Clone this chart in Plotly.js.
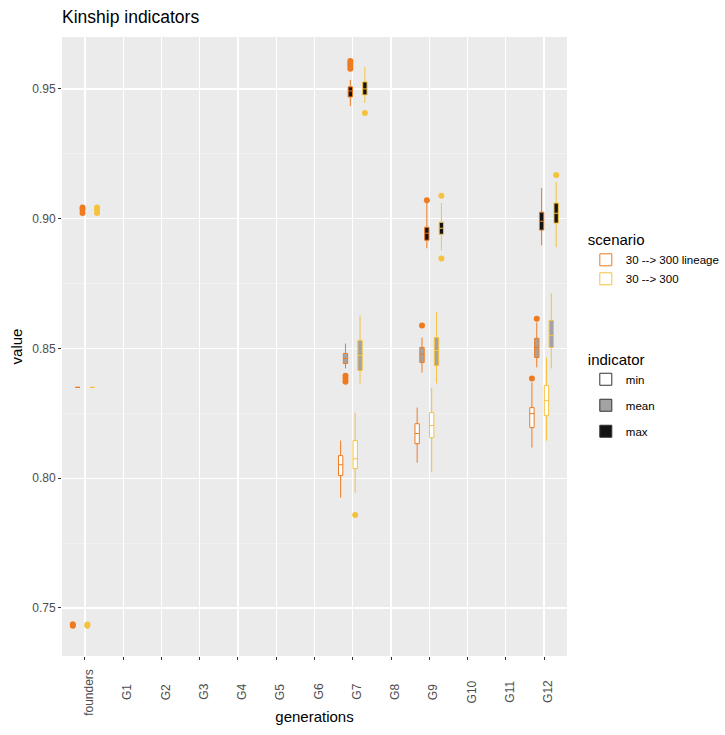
<!DOCTYPE html>
<html>
<head>
<meta charset="utf-8">
<script src="https://cdn.plot.ly/plotly-3.0.1.min.js"></script>
<style>html,body{margin:0;padding:0;background:#fff;}#chart{width:725px;height:735px;}</style>
</head>
<body>
<div id="chart"></div>
<script>
// ---------- data ----------
const generations = ['founders','G1','G2','G3','G4','G5','G6','G7','G8','G9','G10','G11','G12'];
const scenarios = ['30 --> 300 lineage', '30 --> 300'];
const indicators = ['min', 'mean', 'max'];
const boxCats = ['founders', 'G7', 'G9', 'G12'];

// box statistics per category (founders, G7, G9, G12): [lower whisker, q1, median, q3, upper whisker]
const lineageMin  = [[0.743,0.743,0.743,0.743,0.743],[0.7925,0.8010,0.8052,0.8087,0.8145],[0.8060,0.8133,0.8172,0.8210,0.8272],[0.8118,0.8195,0.8249,0.8272,0.8369]];
const lineageMean = [[0.835,0.835,0.835,0.835,0.835],[0.8423,0.8442,0.8461,0.8481,0.8519],[0.8407,0.8446,0.8477,0.8504,0.8542],[0.8427,0.8465,0.8504,0.8539,0.8600]];
const lineageMax  = [[0.902,0.902,0.902,0.902,0.902],[0.9434,0.9469,0.9492,0.9508,0.9535],[0.8886,0.8917,0.8944,0.8967,0.9060],[0.8898,0.8956,0.8990,0.9025,0.9118]];
const plainMin    = [[0.743,0.743,0.743,0.743,0.743],[0.7944,0.8037,0.8075,0.8145,0.8253],[0.8025,0.8156,0.8203,0.8253,0.8349],[0.8145,0.8241,0.8299,0.8357,0.8465]];
const plainMean   = [[0.835,0.835,0.835,0.835,0.835],[0.8365,0.8415,0.8473,0.8531,0.8627],[0.8365,0.8434,0.8492,0.8542,0.8639],[0.8423,0.8504,0.8550,0.8608,0.8712]];
const plainMax    = [[0.902,0.902,0.902,0.902,0.902],[0.9446,0.9477,0.9500,0.9527,0.9585],[0.8878,0.8940,0.8963,0.8986,0.9060],[0.8890,0.8983,0.9021,0.9060,0.9141]];

// outliers
const lineageMinOutX  = ['founders','founders','G12'];
const lineageMinOutY  = [0.7432, 0.7437, 0.8384];
const lineageMeanOutX = ['G7','G7','G7','G9','G12'];
const lineageMeanOutY = [0.8395, 0.8383, 0.8372, 0.8588, 0.8614];
const lineageMaxOutX  = ['founders','founders','founders','G7','G7','G7','G7','G9'];
const lineageMaxOutY  = [0.9022, 0.9035, 0.9043, 0.9608, 0.9598, 0.9588, 0.9578, 0.9071];
const plainMinOutX    = ['founders','founders','G7'];
const plainMinOutY    = [0.7432, 0.7436, 0.7858];
const plainMeanOutX   = [];
const plainMeanOutY   = [];
const plainMaxOutX    = ['founders','founders','founders','G7','G9','G9','G12'];
const plainMaxOutY    = [0.9022, 0.9035, 0.9043, 0.9407, 0.9088, 0.8847, 0.9168];

// ---------- styling ----------
const scenarioColors = ['#EF7B21', '#F6C23E'];
const indicatorFills = ['#FFFFFF', '#A3A3A3', '#141414'];
const FONT = '"Liberation Sans", Arial, Helvetica, sans-serif';

const series = [
  {stats: lineageMin,  ox: lineageMinOutX,  oy: lineageMinOutY,  s: 0, i: 0},
  {stats: lineageMean, ox: lineageMeanOutX, oy: lineageMeanOutY, s: 0, i: 1},
  {stats: lineageMax,  ox: lineageMaxOutX,  oy: lineageMaxOutY,  s: 0, i: 2},
  {stats: plainMin,    ox: plainMinOutX,    oy: plainMinOutY,    s: 1, i: 0},
  {stats: plainMean,   ox: plainMeanOutX,   oy: plainMeanOutY,   s: 1, i: 1},
  {stats: plainMax,    ox: plainMaxOutX,    oy: plainMaxOutY,    s: 1, i: 2}
];

const traces = [];
series.forEach((d, k) => {
  traces.push({
    type: 'box',
    x: boxCats,
    lowerfence: d.stats.map(r => r[0]),
    q1: d.stats.map(r => r[1]),
    median: d.stats.map(r => r[2]),
    q3: d.stats.map(r => r[3]),
    upperfence: d.stats.map(r => r[4]),
    name: scenarios[d.s],
    offsetgroup: 'g' + k,
    boxpoints: false,
    whiskerwidth: 0,
    fillcolor: indicatorFills[d.i],
    line: {color: scenarioColors[d.s], width: 1},
    showlegend: d.i === 0,
    legend: 'legend',
    legendrank: d.s + 1,
    hoverinfo: 'skip'
  });
});
series.forEach((d, k) => {
  traces.push({
    type: 'scatter',
    mode: 'markers',
    x: d.ox,
    y: d.oy,
    offsetgroup: 'g' + k,
    marker: {color: scenarioColors[d.s], size: 6, line: {width: 0}},
    showlegend: false,
    hoverinfo: 'skip'
  });
});
// indicator legend entries
indicators.forEach((name, i) => {
  traces.push({
    type: 'box',
    x: [null],
    q1: [null], median: [null], q3: [null], lowerfence: [null], upperfence: [null],
    name: name,
    offsetgroup: 'g0',
    legend: 'legend2',
    legendgroup: 'ind' + i,
    legendrank: i + 1,
    fillcolor: indicatorFills[i],
    line: {color: '#333333', width: 1},
    showlegend: true,
    hoverinfo: 'skip'
  });
});

const annotations = generations.map(g => ({
  x: g, xref: 'x', y: -0.058, yref: 'paper',
  text: g, textangle: -90, showarrow: false,
  xanchor: 'center', yanchor: 'middle', xshift: 4,
  font: {family: FONT, size: 12, color: '#4D4D4D'}
}));

const layout = {
  width: 725, height: 735,
  margin: {l: 62, r: 158, t: 37, b: 79},
  paper_bgcolor: '#ffffff',
  plot_bgcolor: '#EBEBEB',
  font: {family: FONT, color: '#000'},
  showlegend: true,
  title: {text: 'Kinship indicators', x: 0, xref: 'paper', xanchor: 'left', y: 0.977, yref: 'container', yanchor: 'middle',
          font: {family: FONT, size: 17.5, color: '#000'}},
  boxmode: 'group', boxgap: 0.24, boxgroupgap: 0.1,
  scattermode: 'group', scattergap: 0.24,
  xaxis: {
    type: 'category', categoryorder: 'array', categoryarray: generations,
    range: [-0.6, 12.6],
    showgrid: true, gridcolor: '#ffffff', gridwidth: 1.2,
    ticks: 'outside', ticklen: 3, tickcolor: '#333333', tickwidth: 1,
    showticklabels: false,
    zeroline: false, showline: false,
    title: {text: 'generations', standoff: 52, font: {family: FONT, size: 15, color: '#000'}}
  },
  yaxis: {
    range: [0.7315, 0.970],
    dtick: 0.05, tick0: 0.75, tickformat: '.2f',
    showgrid: true, gridcolor: '#ffffff', gridwidth: 1.2,
    minor: {dtick: 0.025, tick0: 0.725, showgrid: true, gridcolor: '#F5F5F5', gridwidth: 0.6, ticks: ''},
    ticks: 'outside', ticklen: 3, tickcolor: '#333333', tickwidth: 1,
    tickfont: {family: FONT, size: 12, color: '#4D4D4D'},
    zeroline: false, showline: false,
    title: {text: 'value', font: {family: FONT, size: 15, color: '#000'}}
  },
  legend: {
    visible: true,
    xref: 'container', x: 0.808, xanchor: 'left', y: 0.695, yanchor: 'top',
    title: {text: 'scenario', font: {family: FONT, size: 15, color: '#000'}},
    font: {family: FONT, size: 11.5, color: '#000'},
    bgcolor: 'rgba(0,0,0,0)', tracegroupgap: 0
  },
  legend2: {
    visible: true,
    xref: 'container', x: 0.808, xanchor: 'left', y: 0.502, yanchor: 'top',
    title: {text: 'indicator', font: {family: FONT, size: 15, color: '#000'}},
    font: {family: FONT, size: 11.5, color: '#000'},
    bgcolor: 'rgba(0,0,0,0)', tracegroupgap: 7
  },
  annotations: annotations
};

Plotly.newPlot('chart', traces, layout, {displayModeBar: false, staticPlot: true});
</script>
</body>
</html>
